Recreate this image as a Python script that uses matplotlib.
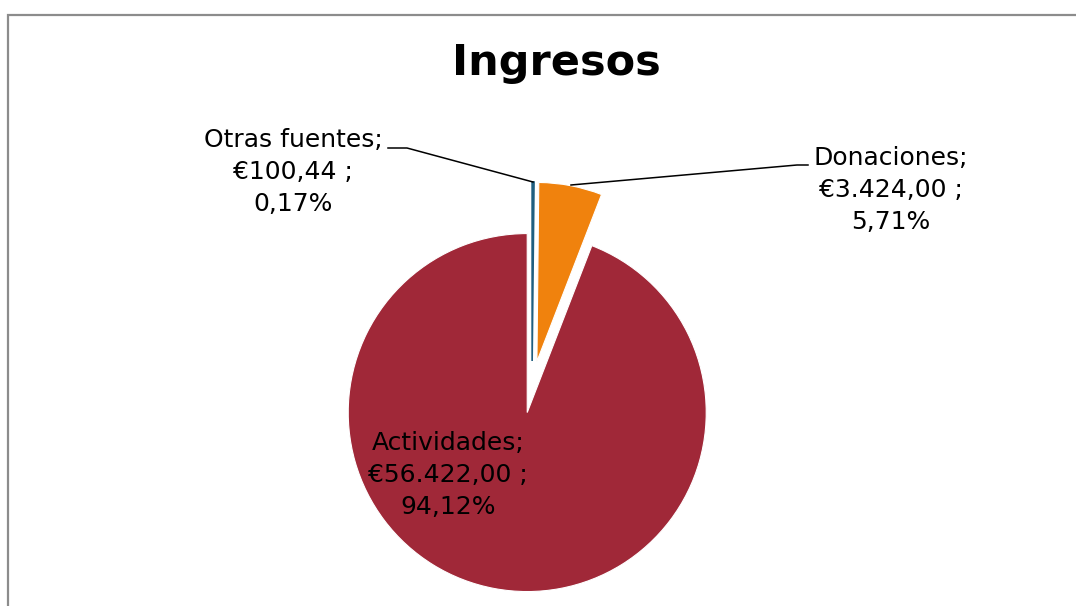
import matplotlib.pyplot as plt
import matplotlib.patches as mpatches

# datos del grafico
categorias = ['Otras fuentes', 'Donaciones', 'Actividades']
importes = [100.44, 3424.00, 56422.00]
porcentajes = ['0,17%', '5,71%', '94,12%']
importes_txt = ['€100,44', '€3.424,00', '€56.422,00']
colores = ['#1F5F80', '#F0820D', '#A02838']

W, H = 1076, 606
fig = plt.figure(figsize=(W / 100, H / 100), dpi=100)
ax = fig.add_axes([0, 0, 1, 1])

# pie en coordenadas de pixel (y hacia arriba)
cx, cy, R = 532, H - 387, 179
cunas, _ = ax.pie(importes, colors=colores, startangle=90, counterclock=False,
                  center=(cx, cy), radius=R, explode=[26, 26, 26],
                  wedgeprops=dict(edgecolor='white', linewidth=0.8))
# la cuna tan fina se veria blanca con el borde
cunas[0].set_edgecolor(colores[0])
cunas[0].set_linewidth(1.2)
ax.set_xlim(0, W)
ax.set_ylim(0, H)
ax.set_aspect('equal')
ax.axis('off')

# marco del grafico
marco = mpatches.Rectangle((8, -20), W + 20, H - 15 + 20, fill=False,
                           edgecolor='#8c8c8c', linewidth=1.6)
ax.add_patch(marco)

fuente = 'DejaVu Sans'
ax.text(556, H - 63, 'Ingresos', ha='center', va='center',
        fontsize=31, fontweight='bold', family=fuente)

def etiqueta(i, x, y):
    txt = categorias[i] + ';\n' + importes_txt[i] + ' ;\n' + porcentajes[i]
    ax.text(x, H - y, txt, ha='center', va='center', fontsize=18,
            family=fuente, linespacing=1.42, color='black')

etiqueta(0, 293, 172)
etiqueta(1, 891, 190)
etiqueta(2, 448, 475)

# lineas guia
ax.plot([388, 407, 533], [H - 148, H - 148, H - 182], color='black', lw=1.1)
ax.plot([571, 797, 808], [H - 185, H - 165, H - 165], color='black', lw=1.1)

plt.savefig('out.png', dpi=100)
